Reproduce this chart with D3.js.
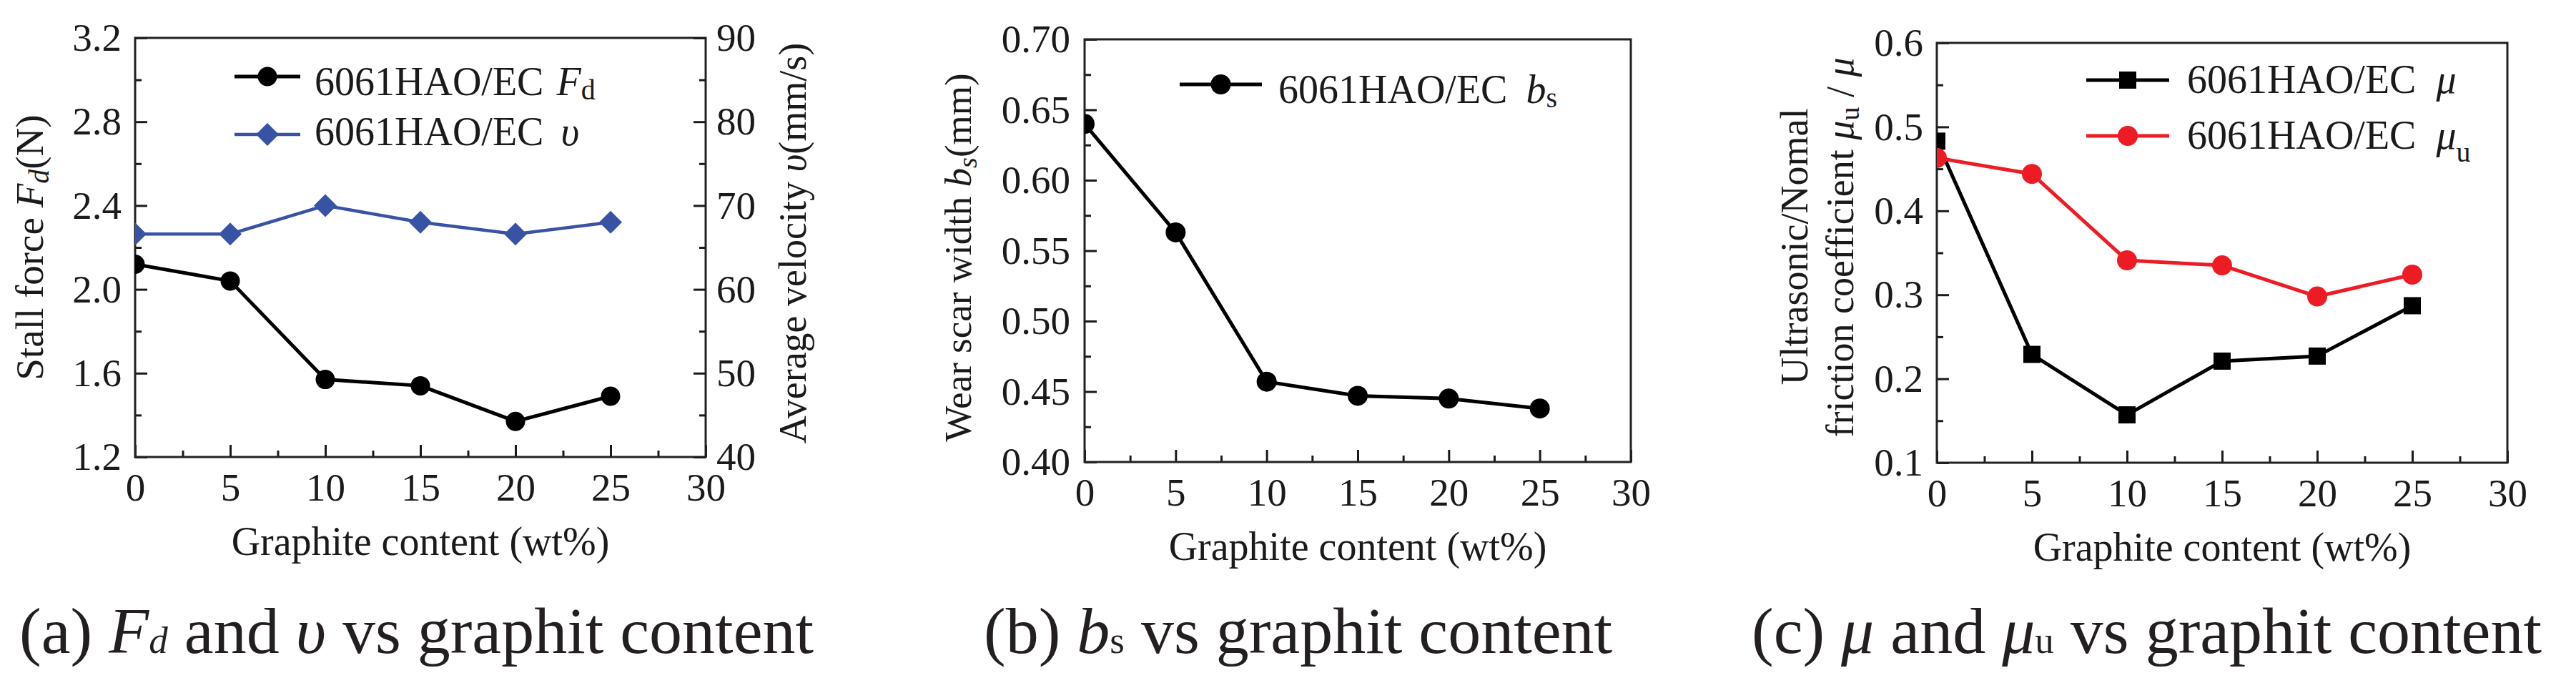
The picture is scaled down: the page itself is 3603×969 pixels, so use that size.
<!DOCTYPE html>
<html><head><meta charset="utf-8">
<script src="https://cdn.jsdelivr.net/npm/d3@7"></script>
<style>body{margin:0;background:#fff} svg text{font-family:"Liberation Serif","Times New Roman",serif;}</style>
</head><body><svg id="c" width="3603" height="969" xmlns="http://www.w3.org/2000/svg"></svg>
<script>
// ---------- data ----------
const graphite = [0, 5, 10, 15, 20, 25];
const stallForce = [2.12, 2.04, 1.57, 1.54, 1.37, 1.49];
const avgVelocity = [66.6, 66.6, 70.0, 68.0, 66.6, 68.0];
const wearWidth = [0.640, 0.563, 0.457, 0.447, 0.445, 0.438];
const frictionMu = [0.483, 0.229, 0.157, 0.221, 0.227, 0.287];
const frictionMuU = [0.463, 0.444, 0.341, 0.335, 0.298, 0.324];
const xTicks = [0, 5, 10, 15, 20, 25, 30];
const forceTicks = [1.2, 1.6, 2.0, 2.4, 2.8, 3.2];
const velocityTicks = [40, 50, 60, 70, 80, 90];
const wearTicks = [0.40, 0.45, 0.50, 0.55, 0.60, 0.65, 0.70];
const muTicks = [0.1, 0.2, 0.3, 0.4, 0.5, 0.6];

// ---------- setup ----------
const svg = d3.select('#c');
const FONT = '"Liberation Serif", "Times New Roman", serif';
const INK = '#1a1a1a';
const BLUE = '#3953a4';
const RED = '#ed1c24';

function richText(parent, x, y, parts, size, opts = {}) {
  const t = parent.append('text')
    .attr('x', x).attr('y', y)
    .style('font-family', FONT).attr('font-size', size)
    .attr('fill', opts.fill || INK)
    .attr('text-anchor', opts.anchor || 'start');
  if (opts.transform) t.attr('transform', opts.transform);
  let shifted = 0;
  parts.forEach(p => {
    const s = t.append('tspan').text(p.t);
    if (p.i) s.attr('font-style', 'italic');
    const want = p.sub ? (p.shift !== undefined ? p.shift : size * 0.18) : 0;
    const dy = want - shifted; shifted = want;
    if (dy) s.attr('dy', dy);
    if (p.dx) s.attr('dx', p.dx);
    if (p.sub) s.attr('font-size', p.size || size * 0.72);
  });
  return t;
}

const axisStyle = g => {
  g.attr('font-size', 55).attr('color', INK);
  g.selectAll('text').style('font-family', FONT).attr('font-size', 55);
  g.select('.domain').remove();
  g.selectAll('line').attr('stroke-width', 3);
};

function panel(P, yDomain, yTicks, yMinor, yFmt, id) {
  const x = d3.scaleLinear().domain([0, 30]).range([P.left, P.right]);
  const y = d3.scaleLinear().domain(yDomain).range([P.bottom, P.top]);
  svg.append('clipPath').attr('id', id).append('rect')
    .attr('x', P.left).attr('y', P.top)
    .attr('width', P.right - P.left).attr('height', P.bottom - P.top);

  svg.append('g').attr('transform', `translate(0,${P.bottom})`)
    .call(d3.axisBottom(x).tickValues(xTicks).tickSize(-17).tickSizeOuter(0)
      .tickPadding(22).tickFormat(d3.format('d'))).call(axisStyle);
  svg.append('g').attr('transform', `translate(0,${P.bottom})`)
    .call(d3.axisBottom(x).tickValues(d3.range(2.5, 30, 5)).tickSize(-9)
      .tickSizeOuter(0).tickFormat('')).call(axisStyle);
  svg.append('g').attr('transform', `translate(${P.left},0)`)
    .call(d3.axisLeft(y).tickValues(yTicks).tickSize(-17).tickSizeOuter(0)
      .tickPadding(P.pad).tickFormat(yFmt)).call(axisStyle);
  svg.append('g').attr('transform', `translate(${P.left},0)`)
    .call(d3.axisLeft(y).tickValues(yMinor).tickSize(-9).tickSizeOuter(0)
      .tickFormat('')).call(axisStyle);
  svg.append('rect').attr('x', P.left).attr('y', P.top)
    .attr('width', P.right - P.left).attr('height', P.bottom - P.top)
    .attr('fill', 'none').attr('stroke', '#222').attr('stroke-width', 3);
  richText(svg, (P.left + P.right) / 2, P.bottom + 137,
    [{ t: 'Graphite content (wt%)' }], 56, { anchor: 'middle' });
  return { x, y, clip: `url(#${id})` };
}

function drawMarkers(g, pts, color, marker, msize) {
  pts.forEach(([px, py]) => {
    if (marker === 'circle') {
      g.append('circle').attr('cx', px).attr('cy', py).attr('r', msize).attr('fill', color);
    } else if (marker === 'square') {
      g.append('path').attr('d', d3.symbol(d3.symbolSquare, msize * msize * 4)())
        .attr('transform', `translate(${px},${py})`).attr('fill', color);
    } else if (marker === 'diamond') {
      g.append('path').attr('d', d3.symbol(d3.symbolSquare, msize * msize * 2)())
        .attr('transform', `translate(${px},${py}) rotate(45)`).attr('fill', color);
    }
  });
}
function series(S, xs, ys, yScale, color, width, marker, msize) {
  const g = svg.append('g').attr('clip-path', S.clip);
  const pts = xs.map((d, i) => [d, ys[i]]);
  g.append('path').datum(pts)
    .attr('d', d3.line().x(d => S.x(d[0])).y(d => yScale(d[1])))
    .attr('fill', 'none').attr('stroke', color).attr('stroke-width', width)
    .attr('stroke-linejoin', 'round');
  drawMarkers(g, pts.map(d => [S.x(d[0]), yScale(d[1])]), color, marker, msize);
}
function legendItem(x1, x2, y, color, width, marker, msize, tx, ty, parts) {
  const g = svg.append('g');
  g.append('line').attr('x1', x1).attr('x2', x2).attr('y1', y).attr('y2', y)
    .attr('stroke', color).attr('stroke-width', width);
  drawMarkers(g, [[(x1 + x2) / 2, y]], color, marker, msize);
  richText(svg, tx, ty, parts, 56);
}

// ---------- panel (a) ----------
const PA = { left: 189, right: 987, top: 53, bottom: 639, pad: 19 };
const A = panel(PA, [1.2, 3.2], forceTicks, d3.range(1.4, 3.2, 0.4), d3.format('.1f'), 'clipA');
const yV = d3.scaleLinear().domain([40, 90]).range([PA.bottom, PA.top]);
svg.append('g').attr('transform', `translate(${PA.right},0)`)
  .call(d3.axisRight(yV).tickValues(velocityTicks).tickSize(-17).tickSizeOuter(0)
    .tickPadding(15).tickFormat(d3.format('d'))).call(axisStyle);
svg.append('g').attr('transform', `translate(${PA.right},0)`)
  .call(d3.axisRight(yV).tickValues(d3.range(45, 90, 10)).tickSize(-9).tickSizeOuter(0)
    .tickFormat('')).call(axisStyle);
series(A, graphite, avgVelocity, yV, BLUE, 4.5, 'diamond', 16);
series(A, graphite, stallForce, A.y, '#000', 5, 'circle', 13.5);
legendItem(328, 420, 107, '#000', 5, 'circle', 13.5, 440, 133,
  [{ t: '6061HAO/EC ' }, { t: 'F', i: 1, dx: 4 }, { t: 'd', sub: 1, shift: 6, size: 40 }]);
legendItem(328, 420, 188, BLUE, 4.5, 'diamond', 16, 440, 203,
  [{ t: '6061HAO/EC' }, { t: 'υ', i: 1, dx: 24 }]);
richText(svg, 60, 346, [{ t: 'Stall force ' }, { t: 'F', i: 1 }, { t: 'd', i: 1, sub: 1, shift: 8, size: 40 }, { t: '(N)' }],
  55, { anchor: 'middle', transform: 'rotate(-90,60,346)' });
richText(svg, 1127, 340, [{ t: 'Average velocity ' }, { t: 'υ', i: 1 }, { t: '(mm/s)' }],
  54, { anchor: 'middle', transform: 'rotate(-90,1127,340)' });

// ---------- panel (b) ----------
const PB = { left: 1517, right: 2281, top: 55, bottom: 646, pad: 20 };
const B = panel(PB, [0.40, 0.70], wearTicks, d3.range(0.425, 0.70, 0.05), d3.format('.2f'), 'clipB');
series(B, graphite, wearWidth, B.y, '#000', 5, 'circle', 14);
legendItem(1650, 1765, 118, '#000', 5, 'circle', 14, 1788, 144,
  [{ t: '6061HAO/EC' }, { t: 'b', i: 1, dx: 26 }, { t: 's', sub: 1, shift: 6, size: 40 }]);
richText(svg, 1358, 360, [{ t: 'Wear scar width ' }, { t: 'b', i: 1 }, { t: 's', i: 1, sub: 1, shift: 8, size: 38 }, { t: '(mm)' }],
  53, { anchor: 'middle', transform: 'rotate(-90,1358,360)' });

// ---------- panel (c) ----------
const PC = { left: 2709, right: 3507, top: 60, bottom: 647, pad: 19 };
const C = panel(PC, [0.1, 0.6], muTicks, d3.range(0.15, 0.6, 0.1), d3.format('.1f'), 'clipC');
series(C, graphite, frictionMu, C.y, '#000', 5, 'square', 12);
series(C, graphite, frictionMuU, C.y, RED, 5, 'circle', 14);
legendItem(2918, 3034, 112, '#000', 5, 'square', 12, 3059, 130,
  [{ t: '6061HAO/EC' }, { t: 'μ', i: 1, dx: 28 }]);
legendItem(2918, 3034, 190, RED, 5, 'circle', 14, 3059, 208,
  [{ t: '6061HAO/EC' }, { t: 'μ', i: 1, dx: 28 }, { t: 'u', sub: 1, shift: 18, size: 40 }]);
richText(svg, 2528, 345, [{ t: 'Ultrasonic/Nomal' }],
  54, { anchor: 'middle', transform: 'rotate(-90,2528,345)' });
richText(svg, 2592, 346, [{ t: 'friction coefficient ' }, { t: 'μ', i: 1 }, { t: 'u', sub: 1, shift: 8, size: 38 }, { t: ' / ' }, { t: 'μ', i: 1 }],
  54, { anchor: 'middle', transform: 'rotate(-90,2592,346)' });

// ---------- captions ----------
const CAP = 92, CAPSUB = 53;
richText(svg, 27, 913, [{ t: '(a) ' }, { t: 'F', i: 1 }, { t: 'd', i: 1, sub: 1, shift: 0, size: CAPSUB },
  { t: ' and ' }, { t: 'υ', i: 1 }, { t: ' vs graphit content' }], CAP, { fill: '#231f20' });
richText(svg, 1376, 913, [{ t: '(b) ' }, { t: 'b', i: 1 }, { t: 's', sub: 1, shift: 0, size: CAPSUB },
  { t: ' vs graphit content' }], CAP, { fill: '#231f20' });
richText(svg, 2450, 913, [{ t: '(c) ' }, { t: 'μ', i: 1 }, { t: ' and ' }, { t: 'μ', i: 1 },
  { t: 'u', sub: 1, shift: 0, size: CAPSUB }, { t: ' vs graphit content' }], CAP, { fill: '#231f20' });
</script>
</body></html>
